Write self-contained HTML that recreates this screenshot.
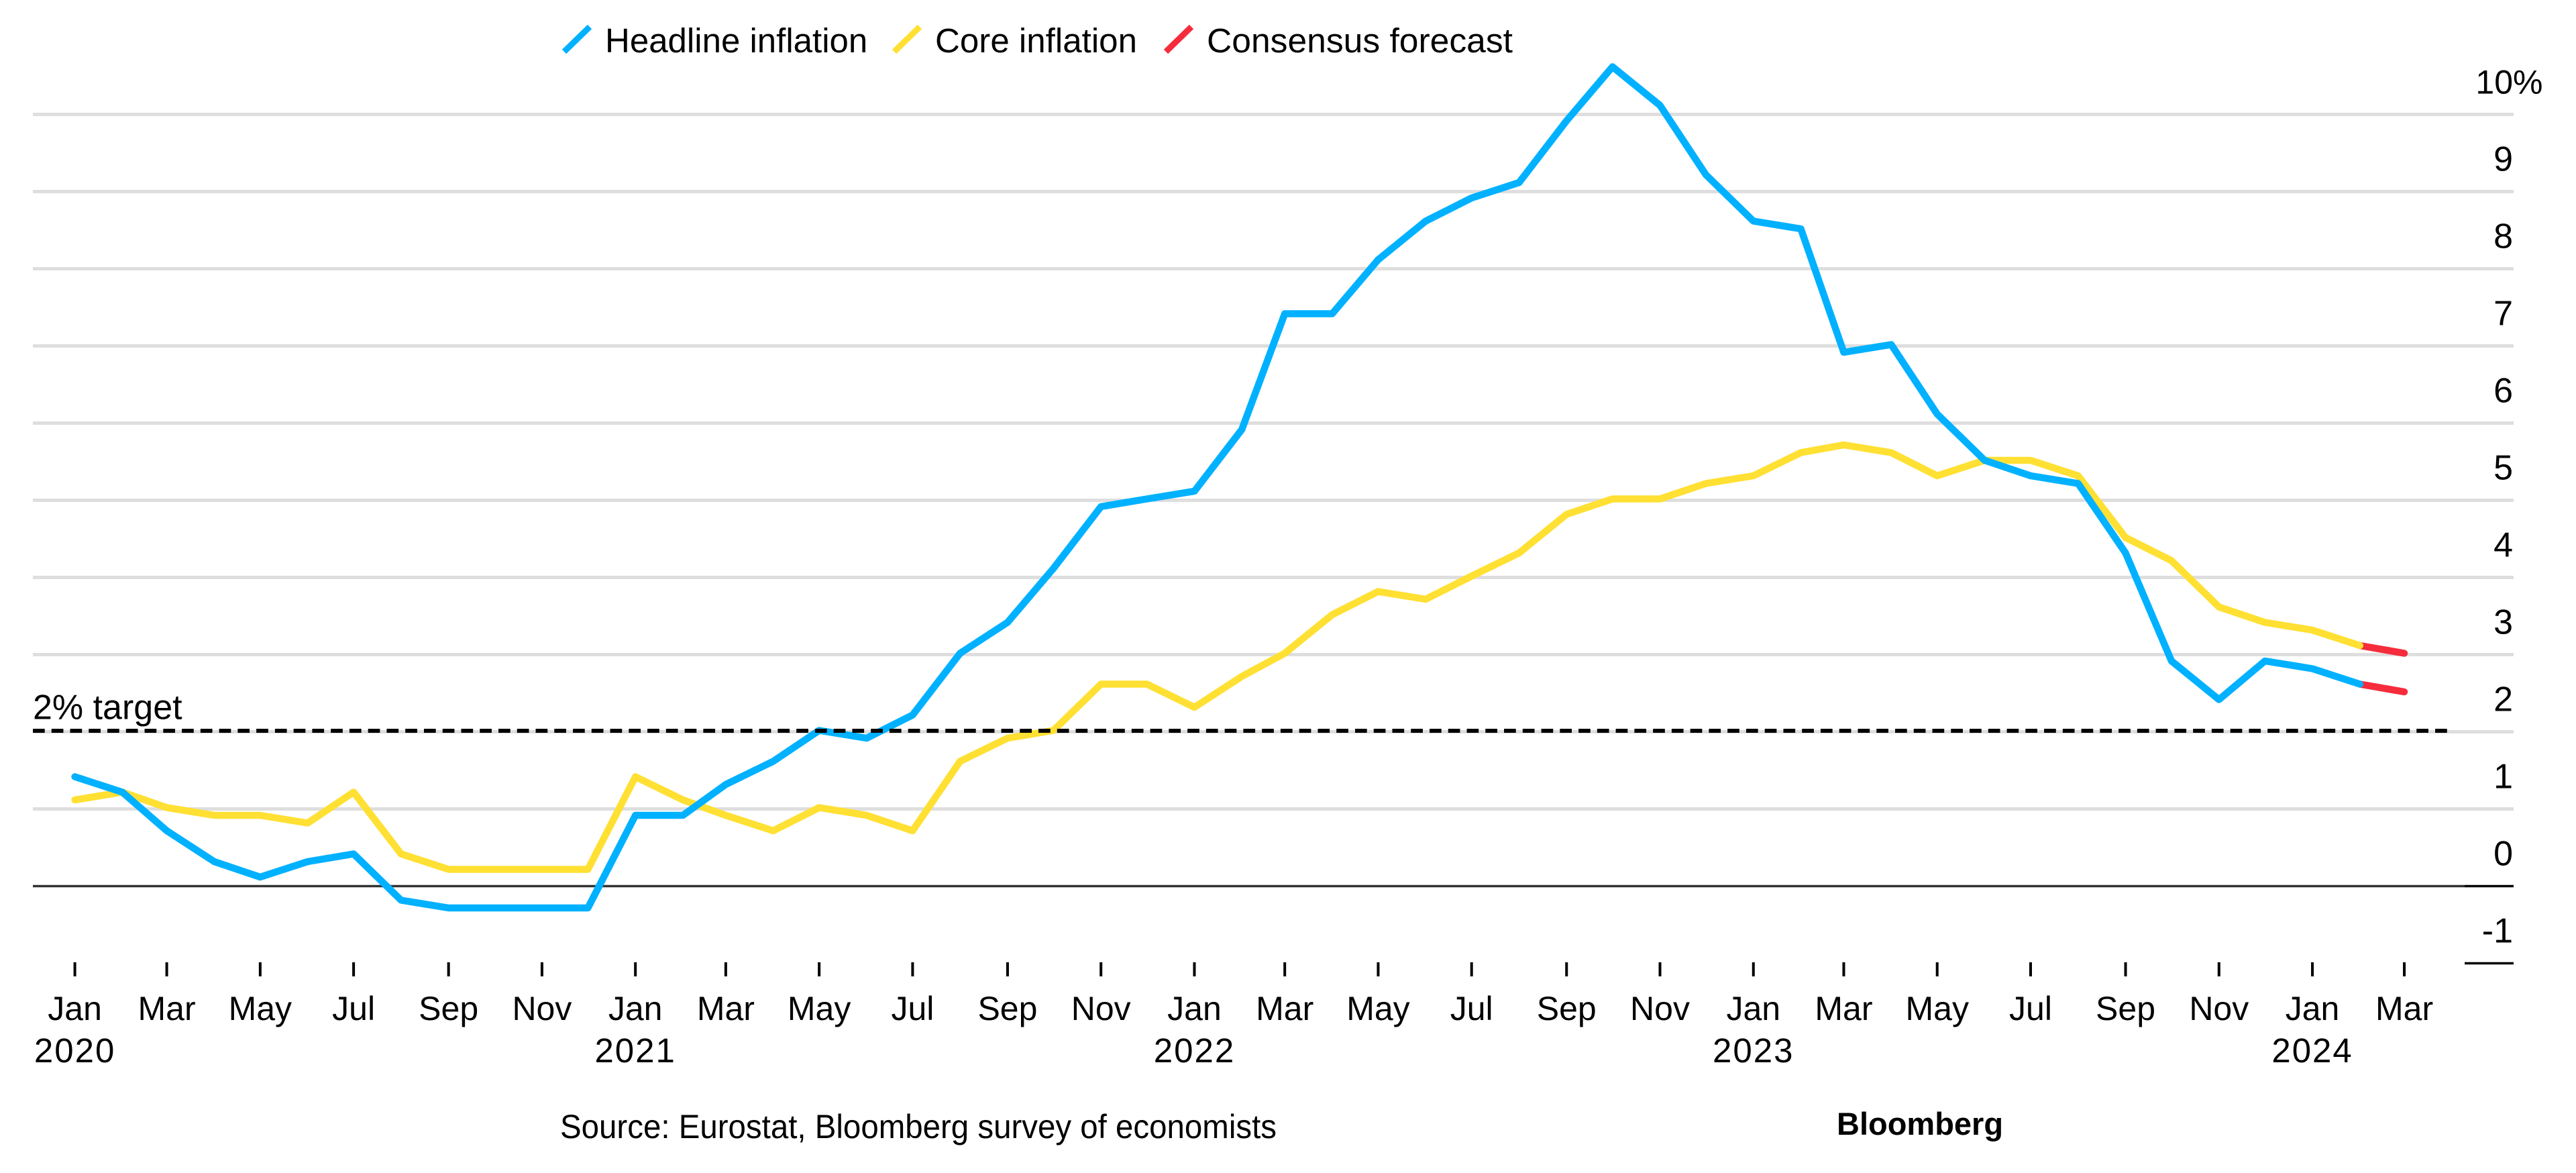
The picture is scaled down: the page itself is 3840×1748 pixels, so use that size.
<!DOCTYPE html>
<html lang="en">
<head>
<meta charset="utf-8">
<title>Euro-area inflation</title>
<style>
html,body{margin:0;padding:0;background:#fff;width:3840px;height:1748px;overflow:hidden}
svg{display:block}
text{font-family:"Liberation Sans",Arial,sans-serif;font-size:50px;fill:#000}
.legend-text{font-size:51px}
.digits{font-size:52px}
.year{font-size:51px;letter-spacing:2px}
</style>
</head>
<body>
<svg id="chart" xmlns="http://www.w3.org/2000/svg" width="3840" height="1748" viewBox="0 0 3840 1748">
  <g id="grid"></g>
  <g id="ylabels"></g>
  <g id="xaxis"></g>
  <g id="series"></g>
  <g id="target"></g>
  <g>
    <line x1="841" y1="77" x2="879" y2="40" stroke="#00b1ff" stroke-width="9"/>
    <text class="legend-text" x="902" y="78">Headline inflation</text>
    <line x1="1333" y1="77" x2="1371" y2="40" stroke="#ffe033" stroke-width="9"/>
    <text class="legend-text" x="1394" y="78" textLength="301" lengthAdjust="spacingAndGlyphs">Core inflation</text>
    <line x1="1738" y1="77" x2="1776" y2="40" stroke="#f52c3c" stroke-width="9"/>
    <text class="legend-text" x="1799" y="78" textLength="456" lengthAdjust="spacingAndGlyphs">Consensus forecast</text>
  </g>
  <text x="835" y="1696" textLength="1068" lengthAdjust="spacingAndGlyphs">Source: Eurostat, Bloomberg survey of economists</text>
  <text x="2738" y="1691" style="font-weight:700;font-size:47px">Bloomberg</text>
</svg>
<script>
const categories = [
  '2020-01','2020-02','2020-03','2020-04','2020-05','2020-06','2020-07','2020-08','2020-09','2020-10','2020-11','2020-12',
  '2021-01','2021-02','2021-03','2021-04','2021-05','2021-06','2021-07','2021-08','2021-09','2021-10','2021-11','2021-12',
  '2022-01','2022-02','2022-03','2022-04','2022-05','2022-06','2022-07','2022-08','2022-09','2022-10','2022-11','2022-12',
  '2023-01','2023-02','2023-03','2023-04','2023-05','2023-06','2023-07','2023-08','2023-09','2023-10','2023-11','2023-12',
  '2024-01','2024-02'
];
const headline = [
  1.4,1.2,0.7,0.3,0.1,0.3,0.4,-0.2,-0.3,-0.3,-0.3,-0.3,
  0.9,0.9,1.3,1.6,2.0,1.9,2.2,3.0,3.4,4.1,4.9,5.0,
  5.1,5.9,7.4,7.4,8.1,8.6,8.9,9.1,9.9,10.6,10.1,9.2,
  8.6,8.5,6.9,7.0,6.1,5.5,5.3,5.2,4.3,2.9,2.4,2.9,
  2.8,2.6
];
const core = [
  1.1,1.2,1.0,0.9,0.9,0.8,1.2,0.4,0.2,0.2,0.2,0.2,
  1.4,1.1,0.9,0.7,1.0,0.9,0.7,1.6,1.9,2.0,2.6,2.6,
  2.3,2.7,3.0,3.5,3.8,3.7,4.0,4.3,4.8,5.0,5.0,5.2,
  5.3,5.6,5.7,5.6,5.3,5.5,5.5,5.3,4.5,4.2,3.6,3.4,
  3.3,3.1
];
const forecastCategories = ['2024-02','2024-03'];
const headlineForecast = [2.6,2.5];
const coreForecast = [3.1,3.0];
const yTicks = [-1,0,1,2,3,4,5,6,7,8,9,10];
const xTickDates = ['2020-01','2020-03','2020-05','2020-07','2020-09','2020-11','2021-01','2021-03','2021-05','2021-07','2021-09','2021-11','2022-01','2022-03','2022-05','2022-07','2022-09','2022-11','2023-01','2023-03','2023-05','2023-07','2023-09','2023-11','2024-01','2024-03'];
const xTickLabels = ['Jan','Mar','May','Jul','Sep','Nov','Jan','Mar','May','Jul','Sep','Nov','Jan','Mar','May','Jul','Sep','Nov','Jan','Mar','May','Jul','Sep','Nov','Jan','Mar'];
const yearDates = ['2020-01','2021-01','2022-01','2023-01','2024-01'];
const yearLabels = ['2020','2021','2022','2023','2024'];
const targetValue = 2;

const NS = 'http://www.w3.org/2000/svg';
const DAY = 86400000;
const START = Date.UTC(2020, 0, 1);
function x(cat) {
  const p = cat.split('-');
  return 111.6 + 2.283 * (Date.UTC(+p[0], +p[1] - 1, 1) - START) / DAY;
}
function y(v) {
  return 1318.5 - 115 * v;
}
function gridY(v) {
  return y(v) + 2;
}
function make(tag, attrs, parent) {
  const el = document.createElementNS(NS, tag);
  for (const k in attrs) el.setAttribute(k, attrs[k]);
  parent.appendChild(el);
  return el;
}
const grid = document.getElementById('grid');
const ylabels = document.getElementById('ylabels');
const xaxis = document.getElementById('xaxis');
const seriesG = document.getElementById('series');
const targetG = document.getElementById('target');

yTicks.forEach(function (t) {
  if (t === -1) {
    const seg = make('rect', {x: 3674, y: gridY(t) - 1.75, width: 73, height: 3.5, fill: '#000'}, grid);
    
    
  } else if (t === 0) {
    const zero = make('rect', {x: 49, y: gridY(t) - 1.75, width: 3625, height: 3.5, fill: '#333'}, grid);
    
    
    const zeroEnd = make('rect', {x: 3674, y: gridY(t) - 1.75, width: 73, height: 3.5, fill: '#000'}, grid);
    
    
  } else {
    const g = make('rect', {x: 49, y: gridY(t) - 2.5, width: 3698, height: 5, fill: '#dedede'}, grid);
    
    
  }
  const lab = make('text', {x: 3746, y: gridY(t) - 31, 'text-anchor': 'end', 'class': 'digits'}, ylabels);
  
  
  lab.textContent = String(t);
  if (t === 10) {
    const pct = make('tspan', {}, ylabels);
    pct.textContent = '%';
    lab.setAttribute('text-anchor', 'start');
    lab.setAttribute('class', '');
    lab.setAttribute('x', 3746 - 55.6);
    lab.appendChild(pct);
  }
});

xTickDates.forEach(function (d, i) {
  const tick = make('rect', {x: x(d) - 2, y: 1434, width: 4, height: 21, fill: '#000'}, xaxis);
  
  
  const lab = make('text', {x: x(d), y: 1520, 'text-anchor': 'middle'}, xaxis);
  
  
  lab.textContent = xTickLabels[i];
});
yearDates.forEach(function (d, i) {
  const lab = make('text', {x: x(d), y: 1583, 'text-anchor': 'middle', 'class': 'year'}, xaxis);
  
  
  lab.textContent = yearLabels[i];
});

function pathFor(cats, vals) {
  return cats.map(function (c, i) {
    return (i ? 'L' : 'M') + x(c).toFixed(1) + ' ' + y(vals[i]).toFixed(1);
  }).join(' ');
}
function drawLine(cats, vals, color) {
  return make('path', {
    d: pathFor(cats, vals), fill: 'none', stroke: color, 'stroke-width': 10.5,
    'stroke-linecap': 'round', 'stroke-linejoin': 'round'
  }, seriesG);
}
const coreFc = drawLine(forecastCategories, coreForecast, '#f52c3c');


const headFc = drawLine(forecastCategories, headlineForecast, '#f52c3c');


const coreLine = drawLine(categories, core, '#ffe033');


const headLine = drawLine(categories, headline, '#00b1ff');



const tLine = make('line', {x1: 49, x2: 3648, y1: y(targetValue) + 0.5, y2: y(targetValue) + 0.5, stroke: '#000', 'stroke-width': 6, 'stroke-dasharray': '17.7 10.06'}, targetG);


const tLab = make('text', {x: 49, y: gridY(targetValue) - 19, style: 'font-size:52px'}, targetG);


tLab.textContent = '2% target';
</script>
</body>
</html>
